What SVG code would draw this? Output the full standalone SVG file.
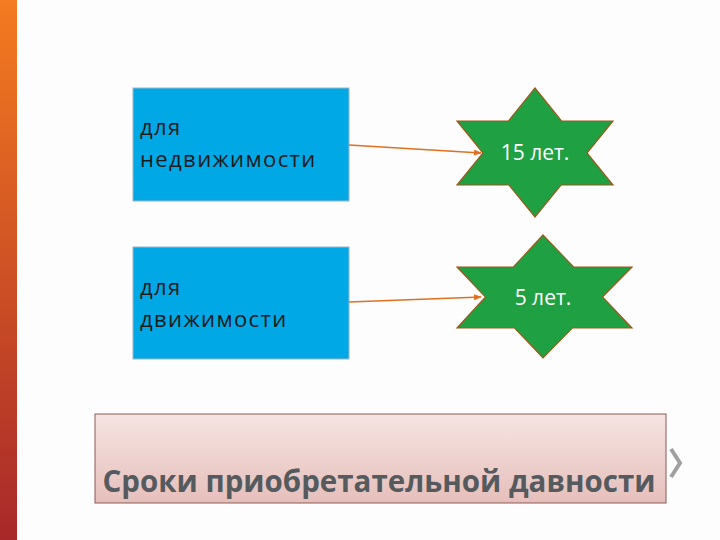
<svg xmlns="http://www.w3.org/2000/svg" width="720" height="540" viewBox="0 0 720 540">
<defs>
<linearGradient id="bar" x1="0" y1="0" x2="0" y2="1"><stop offset="0" stop-color="#F47B20"/><stop offset="1" stop-color="#A8282A"/></linearGradient>
<linearGradient id="pink" x1="0" y1="0" x2="0" y2="1"><stop offset="0" stop-color="#F5E4E2"/><stop offset="1" stop-color="#E6BFBB"/></linearGradient>
<marker id="ah" markerWidth="8" markerHeight="6" refX="7" refY="3" orient="auto" markerUnits="userSpaceOnUse"><path d="M0,0 L8,3 L0,6 z" fill="#E07020"/></marker>
<style>
.box{fill:#00A8E6;stroke:#9DB5C8;stroke-width:1}
.star{fill:#1FA143;stroke:#9A5A1A;stroke-width:1.2}
.t{font-family:"Open Sans","DejaVu Sans",sans-serif;font-size:22px;letter-spacing:1.4px;fill:#1a1a1a}
.s{font-family:"Open Sans","DejaVu Sans",sans-serif;font-size:21px;fill:#fff;text-anchor:middle}
.c{stroke:#E07020;stroke-width:1.5;fill:none;marker-end:url(#ah)}
</style>
</defs>
<rect width="720" height="540" fill="#FDFDFD"/>
<rect x="0" y="0" width="17" height="540" fill="url(#bar)"/>
<g id="n1"><rect class="box" x="133" y="88" width="216" height="113"/><text class="t" x="140" y="135">для</text><text class="t" x="140" y="167">недвижимости</text></g>
<g id="n2"><rect class="box" x="133" y="247" width="216" height="112"/><text class="t" x="140" y="295">для</text><text class="t" x="140" y="327">движимости</text></g>
<g id="s1"><polygon class="star" points="535,88 561.5,121 613,121 587,153 613,185 561,185 535,217 509,185 457,185 483,153 457,121 508.5,121"/><text class="s" x="535" y="160">15 лет.</text></g>
<g id="s2"><polygon class="star" points="543,235 573.6,267 632,267 602.5,297 632,328 572.3,328 543,358 514.6,328 457,328 485.5,297 457,267 513.4,267"/><text class="s" x="543" y="305">5 лет.</text></g>
<g id="connectors"><line class="c" x1="349" y1="145" x2="481" y2="153"/><line class="c" x1="349" y1="302" x2="481" y2="297"/></g>
<g id="title"><rect x="95" y="414" width="571" height="89" fill="url(#pink)" stroke="#8B5A55" stroke-width="1"/><text x="379" y="492" text-anchor="middle" font-family="'Open Sans','DejaVu Sans',sans-serif" font-weight="bold" font-size="29.5" fill="#555A5E">Сроки приобретательной давности</text></g>
<path d="M671,449 L680,463 L671,477" fill="none" stroke="#A0A0A0" stroke-width="4"/>
</svg>
